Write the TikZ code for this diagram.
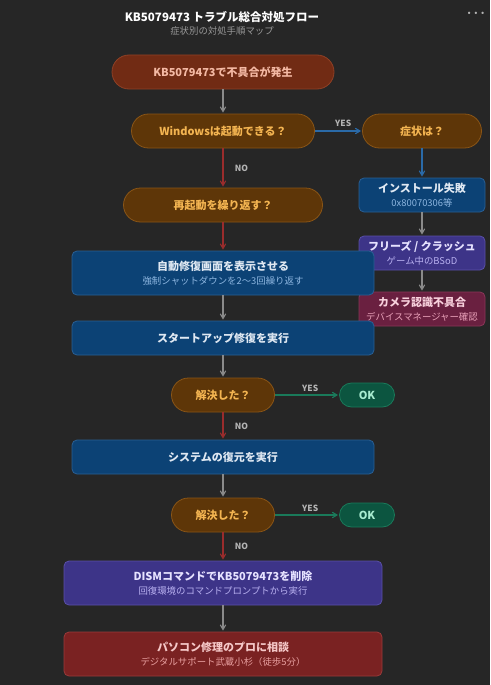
\documentclass[tikz,border=0pt]{standalone}
\usepackage{fontspec}
\setmainfont{Noto Sans CJK JP}
\usetikzlibrary{arrows,positioning}

\definecolor{bgcol}{HTML}{262626}
\definecolor{startfill}{HTML}{712B14}
\definecolor{startline}{HTML}{8F4025}
\definecolor{starttext}{HTML}{F4B9A4}
\definecolor{decfill}{HTML}{5E3608}
\definecolor{decline}{HTML}{8A5516}
\definecolor{dectext}{HTML}{F3B451}
\definecolor{bluefill}{HTML}{0C4275}
\definecolor{blueline}{HTML}{2A5F94}
\definecolor{bluetext}{HTML}{DFE8F2}
\definecolor{bluesub}{HTML}{8DB6E0}
\definecolor{purplefill}{HTML}{3D3488}
\definecolor{purpleline}{HTML}{5A50A8}
\definecolor{purpletext}{HTML}{E6E2FF}
\definecolor{purplesub}{HTML}{B8B0F0}
\definecolor{camfill}{HTML}{6A2040}
\definecolor{camline}{HTML}{8A3658}
\definecolor{camtext}{HTML}{F8D0DC}
\definecolor{camsub}{HTML}{E8A0B8}
\definecolor{okfill}{HTML}{0C5540}
\definecolor{okline}{HTML}{1A7A5A}
\definecolor{oktext}{HTML}{A8ECD0}
\definecolor{profill}{HTML}{7A2222}
\definecolor{proline}{HTML}{9A3A3A}
\definecolor{protext}{HTML}{F5C8C8}
\definecolor{prosub}{HTML}{E8A0A0}
\definecolor{graycon}{HTML}{8A8A8A}
\definecolor{redcon}{HTML}{9A2C2C}
\definecolor{bluecon}{HTML}{2A6AA8}
\definecolor{greencon}{HTML}{1A7A5A}
\definecolor{lblgray}{HTML}{B4B4B4}

\newcommand{\subtxt}[2]{\\[1pt]{\fontsize{9.4}{11}\selectfont\mdseries\color{#1}#2}}

\begin{document}
\begin{tikzpicture}[x=1pt,y=-1pt,->,>=angle 60,shorten >=1pt,line width=1.1pt,
                    node distance=60pt]
  \tikzstyle{every node}=[font=\fontsize{11}{13}\selectfont\bfseries]
  \tikzstyle{pill}=[draw,line width=0.8pt,rounded corners=17pt,minimum height=34pt]
  \tikzstyle{startnode}=[pill,draw=startline,fill=startfill,text=starttext]
  \tikzstyle{decision}=[pill,draw=decline,fill=decfill,text=dectext]
  \tikzstyle{okay}=[draw=okline,line width=0.8pt,fill=okfill,text=oktext,rounded corners=12pt,
                    minimum width=55pt,minimum height=24pt]
  \tikzstyle{box}=[draw,line width=0.8pt,rounded corners=5pt,align=center,minimum height=34pt]
  \tikzstyle{bluebox}=[box,draw=blueline,fill=bluefill,text=bluetext]
  \tikzstyle{purplebox}=[box,draw=purpleline,fill=purplefill,text=purpletext]
  \tikzstyle{cambox}=[box,draw=camline,fill=camfill,text=camtext]
  \tikzstyle{probox}=[box,draw=proline,fill=profill,text=protext]
  \tikzstyle{lbl}=[font=\fontsize{8.5}{10}\selectfont\bfseries,text=lblgray]

  \fill[bgcol] (0,0) rectangle (490,685);
  \node (title) at (222,17) {\fontsize{11.5}{13}\selectfont\color{white}KB5079473 トラブル総合対処フロー};
  \node (subtitle) at (222,31) {\fontsize{9.4}{11}\selectfont\mdseries\color{lblgray!85!black}症状別の対処手順マップ};
  \node[text=lblgray] (menu) at (476,15) {···};

  \node[startnode,minimum width=222pt] (start) at (223,72) {KB5079473で不具合が発生};
  \node[decision,minimum width=183pt]  (boot)    [below of=start,node distance=59pt] {Windowsは起動できる？};
  \node[decision,minimum width=119pt]  (symptom) [right of=boot,node distance=199pt] {症状は？};
  \node[bluebox,minimum width=126pt]   (install) [below of=symptom,node distance=64pt] {インストール失敗\subtxt{bluesub}{0x80070306等}};
  \node[purplebox,minimum width=126pt] (freeze)  [below of=install,node distance=58pt] {フリーズ / クラッシュ\subtxt{purplesub}{ゲーム中のBSoD}};
  \node[cambox,minimum width=126pt]    (camera)  [below of=freeze,node distance=56pt] {カメラ認識不具合\subtxt{camsub}{デバイスマネージャー確認}};

  \node[decision,minimum width=199pt]  (loop)    [below of=boot,node distance=74pt] {再起動を繰り返す？};
  \node[bluebox,minimum width=302pt,minimum height=44pt] (autorep) [below of=loop,node distance=68pt]
        {自動修復画面を表示させる\subtxt{bluesub}{強制シャットダウンを2〜3回繰り返す}};
  \node[bluebox,minimum width=302pt]   (startup) [below of=autorep,node distance=65pt] {スタートアップ修復を実行};
  \node[decision,minimum width=103pt]  (solvedA) [below of=startup,node distance=57pt] {解決した？};
  \node[okay]                          (okA)     [right of=solvedA,node distance=144pt] {OK};
  \node[bluebox,minimum width=302pt]   (restore) [below of=solvedA,node distance=62pt] {システムの復元を実行};
  \node[decision,minimum width=103pt]  (solvedB) [below of=restore,node distance=58pt] {解決した？};
  \node[okay]                          (okB)     [right of=solvedB,node distance=144pt] {OK};
  \node[purplebox,minimum width=318pt,minimum height=44pt] (dism) [below of=solvedB,node distance=68pt]
        {DISMコマンドでKB5079473を削除\subtxt{purplesub}{回復環境のコマンドプロンプトから実行}};
  \node[probox,minimum width=318pt,minimum height=44pt] (pro) [below of=dism,node distance=71pt]
        {パソコン修理のプロに相談\subtxt{prosub}{デジタルサポート武蔵小杉（徒歩5分）}};

  \path (start)   edge[graycon]  (boot)
        (boot)    edge[bluecon]  node[lbl,above,pos=0.6] {YES} (symptom)
        (boot)    edge[redcon]   node[lbl,right=8pt] {NO} (loop)
        (symptom) edge[bluecon]  (install)
        (install) edge[graycon]  (freeze)
        (freeze)  edge[graycon]  (camera)
        (loop)    edge[redcon]   (autorep)
        (autorep) edge[graycon]  (startup)
        (startup) edge[graycon]  (solvedA)
        (solvedA) edge[greencon] node[lbl,above,pos=0.55] {YES} (okA)
        (solvedA) edge[redcon]   node[lbl,right=8pt] {NO} (restore)
        (restore) edge[graycon]  (solvedB)
        (solvedB) edge[greencon] node[lbl,above,pos=0.55] {YES} (okB)
        (solvedB) edge[redcon]   node[lbl,right=8pt] {NO} (dism)
        (dism)    edge[graycon]  (pro);
\end{tikzpicture}
\end{document}
